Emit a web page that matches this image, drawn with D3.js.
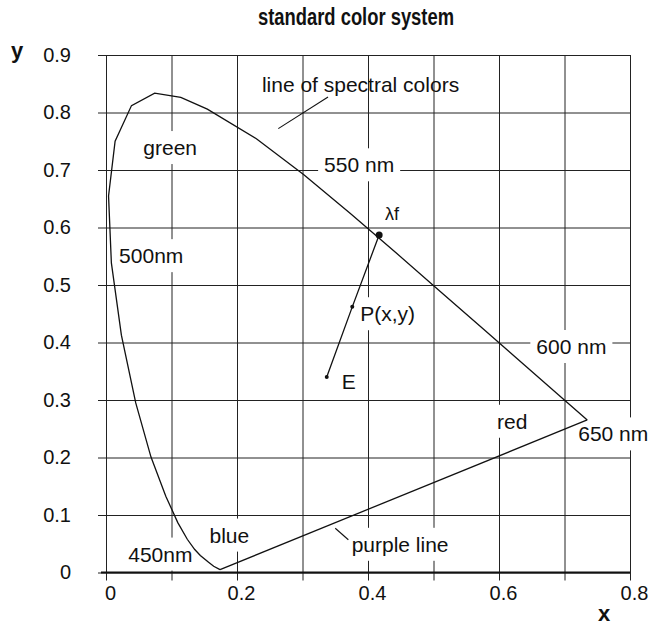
<!DOCTYPE html>
<html>
<head>
<meta charset="utf-8">
<script src="https://cdn.jsdelivr.net/npm/d3@7"></script>
<style>
	body { margin: 0; background: #fff; }
	text { font-family: "Liberation Sans", Arial, Helvetica, sans-serif; fill: #111; }
	.grid line { stroke: #222; stroke-width: 1; }
	.grid path { display: none; }
</style>
</head>
<body>
<div id="chart"></div>
<script>
// ************** chromaticity chart    *****************
var width = 649,
    height = 627;

// spectral locus (from blue tip round to the red end)
var locusX = [0.1741, 0.1644, 0.1566, 0.1440, 0.1355, 0.1241, 0.1096, 0.0913, 0.0687, 0.0454, 0.0235, 0.0082, 0.0039, 0.0139, 0.0389, 0.0743, 0.1142, 0.1547, 0.2296, 0.3016, 0.3731, 0.4441, 0.5125, 0.5752, 0.6270, 0.6915, 0.7260, 0.7347];
var locusY = [0.0050, 0.0109, 0.0177, 0.0297, 0.0399, 0.0578, 0.0868, 0.1327, 0.2007, 0.2950, 0.4127, 0.5384, 0.6548, 0.7502, 0.8120, 0.8338, 0.8262, 0.8059, 0.7543, 0.6923, 0.6245, 0.5547, 0.4866, 0.4242, 0.3725, 0.3083, 0.2740, 0.2653];

// E -> P(x,y) -> lambda f
var pointNames = ["E", "P", "lf"];
var pointX = [0.337, 0.376, 0.417];
var pointY = [0.340, 0.462, 0.587];
var pointR = [2, 2, 3.5];

var xGrid = [0, 0.1, 0.2, 0.3, 0.4, 0.5, 0.6, 0.7, 0.8];
var yGrid = [0, 0.1, 0.2, 0.3, 0.4, 0.5, 0.6, 0.7, 0.8, 0.9];
var xTickLabels = [0, 0.2, 0.4, 0.6, 0.8];
var yTickLabels = [0, 0.1, 0.2, 0.3, 0.4, 0.5, 0.6, 0.7, 0.8, 0.9];

// annotations: text, x, y (data units, start of baseline), white box behind
var labelText = ["line of spectral colors", "green", "550 nm", "\u03bbf", "500nm", "P(x,y)", "600 nm", "E", "red", "650 nm", "blue", "purple line", "450nm"];
var labelX = [0.238, 0.057, 0.333, 0.426, 0.020, 0.388, 0.657, 0.360, 0.597, 0.721, 0.158, 0.375, 0.034];
var labelY = [0.836, 0.726, 0.696, 0.613, 0.538, 0.437, 0.380, 0.320, 0.250, 0.228, 0.052, 0.036, 0.019];
var labelBox = [false, true, true, false, true, true, true, false, true, true, true, true, true];

// leader lines [x1, y1, x2, y2]
var leaders = [
	[0.339, 0.827, 0.263, 0.772],
	[0.350, 0.077, 0.370, 0.057]
];

var x = d3.scaleLinear().domain([0, 0.8]).range([106, 630]);
var y = d3.scaleLinear().domain([0, 0.9]).range([572.5, 55]);

var svg = d3.select("#chart").append("svg")
	.attr("width", width)
	.attr("height", height);

// title (squeezed, the original face is a narrow bold)
svg.append("text")
	.attr("x", 258)
	.attr("y", 25)
	.attr("textLength", 196)
	.attr("lengthAdjust", "spacingAndGlyphs")
	.style("font-weight", "bold")
	.style("font-size", "23px")
	.text("standard color system");

// grid lines (vertical run 8px under the axis, horizontal 8px left)
svg.append("g")
	.attr("class", "grid")
	.attr("transform", "translate(0," + y(0.9) + ")")
	.call(d3.axisBottom(x).tickValues(xGrid).tickSize(y(0) - y(0.9) + 8).tickFormat(""));

svg.append("g")
	.attr("class", "grid")
	.attr("transform", "translate(" + (x(0) - 8) + ",0)")
	.call(d3.axisRight(y).tickValues(yGrid).tickSize(x(0.8) - x(0) + 8).tickFormat(""));

// heavier bottom axis line
svg.append("line")
	.attr("x1", x(0) - 5)
	.attr("x2", x(0.8))
	.attr("y1", y(0))
	.attr("y2", y(0))
	.attr("stroke", "#111")
	.attr("stroke-width", 2);

// tick labels
var fmt = function(d) { return d === 0 ? "0" : d3.format(".1f")(d); };

var gx = svg.append("g")
	.attr("transform", "translate(4," + y(0) + ")")
	.call(d3.axisBottom(x).tickValues(xTickLabels).tickSize(0).tickPadding(13).tickFormat(fmt));
gx.select(".domain").remove();
gx.selectAll("text").style("font-size", "20px").style("font-family", "'Liberation Sans', Arial, sans-serif").attr("fill", "#111");

var gy = svg.append("g")
	.attr("transform", "translate(" + (x(0) - 35) + ",0)")
	.call(d3.axisLeft(y).tickValues(yTickLabels).tickSize(0).tickPadding(0).tickFormat(fmt));
gy.select(".domain").remove();
gy.selectAll("text").style("font-size", "20px").style("font-family", "'Liberation Sans', Arial, sans-serif").attr("fill", "#111");

// axis names
svg.append("text")
	.attr("x", 11)
	.attr("y", 58)
	.style("font-weight", "bold")
	.style("font-size", "22px")
	.text("y");

svg.append("text")
	.attr("x", 604)
	.attr("y", 621)
	.attr("text-anchor", "middle")
	.style("font-weight", "bold")
	.style("font-size", "22px")
	.text("x");

var gBoxes = svg.append("g").attr("class", "boxes");
var gCurve = svg.append("g").attr("class", "curve");
var gText = svg.append("g").attr("class", "labels");

// labels + white boxes that cut the grid
labelText.forEach(function(t, i) {
	var lbl = gText.append("text")
		.attr("x", x(labelX[i]))
		.attr("y", y(labelY[i]))
		.style("font-size", t === "\u03bbf" ? "18px" : "21px")
		.text(t);
	if (labelBox[i]) {
		var bb = lbl.node().getBBox();
		gBoxes.append("rect")
			.attr("x", bb.x - 6)
			.attr("y", bb.y - 5)
			.attr("width", bb.width + 12)
			.attr("height", bb.height + 10)
			.attr("fill", "#fff");
	}
});

// spectral locus and purple line
var locus = locusX.map(function(d, i) { return [d, locusY[i]]; });
var line = d3.line()
	.x(function(d) { return x(d[0]); })
	.y(function(d) { return y(d[1]); });

gCurve.append("path")
	.attr("d", line(locus))
	.attr("fill", "none")
	.attr("stroke", "#111")
	.attr("stroke-width", 1.3);

gCurve.append("path")
	.attr("d", line([locus[0], locus[locus.length - 1]]))
	.attr("fill", "none")
	.attr("stroke", "#111")
	.attr("stroke-width", 1.3);

// leaders
leaders.forEach(function(l) {
	gCurve.append("line")
		.attr("x1", x(l[0])).attr("y1", y(l[1]))
		.attr("x2", x(l[2])).attr("y2", y(l[3]))
		.attr("stroke", "#111")
		.attr("stroke-width", 1.1);
});

// E - P - lambda f
var pts = pointX.map(function(d, i) { return [d, pointY[i]]; });
gCurve.append("path")
	.attr("d", line(pts))
	.attr("fill", "none")
	.attr("stroke", "#111")
	.attr("stroke-width", 1.3);

gCurve.selectAll("circle")
	.data(pts)
	.enter().append("circle")
	.attr("cx", function(d) { return x(d[0]); })
	.attr("cy", function(d) { return y(d[1]); })
	.attr("r", function(d, i) { return pointR[i]; })
	.attr("fill", "#111");
</script>
</body>
</html>
